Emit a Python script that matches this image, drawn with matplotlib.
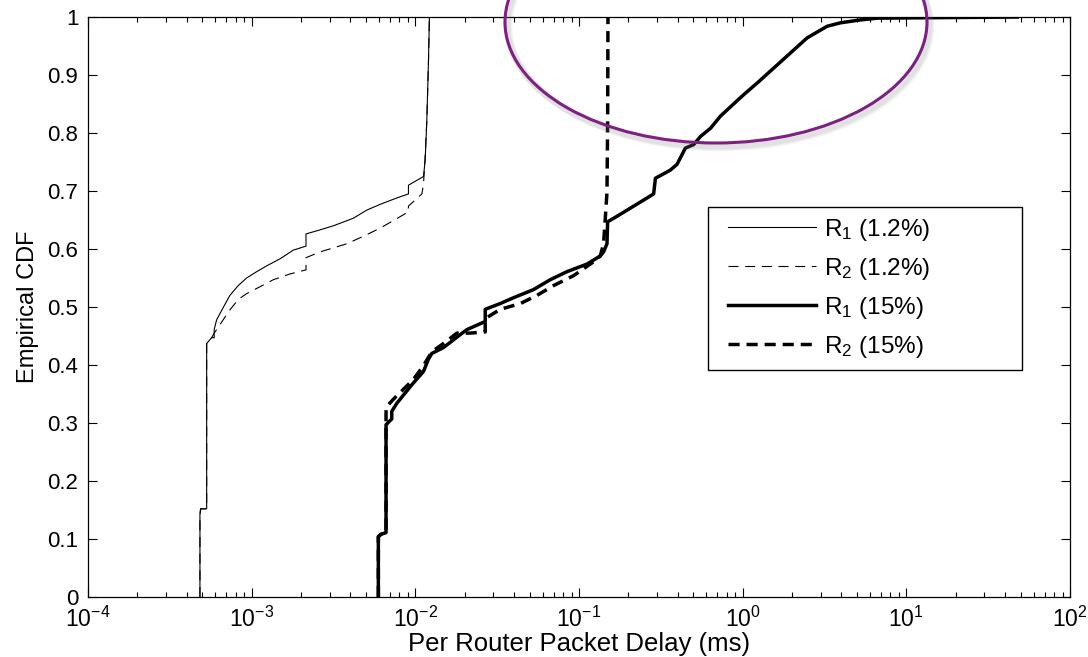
import matplotlib
matplotlib.use("Agg")
import matplotlib.pyplot as plt
import numpy as np
from matplotlib.patches import Ellipse, Rectangle
from matplotlib.ticker import LogLocator, FormatStrFormatter

plt.rcParams['font.family'] = ['Liberation Sans', 'DejaVu Sans']
plt.rcParams['mathtext.fontset'] = 'custom'
plt.rcParams['mathtext.rm'] = 'Liberation Sans'
plt.rcParams['mathtext.it'] = 'Liberation Sans'

# log10 of per-router delay (ms) and CDF values
r1_low_logd = [-3.316, -3.316, -3.312, -3.275, -3.275, -3.245, -3.229, -3.229, -3.214, -3.174,
               -3.133, -3.082, -3.031, -2.969, -2.908, -2.827, -2.746, -2.668, -2.668, -2.582,
               -2.501, -2.379, -2.297, -2.215, -2.113, -2.042, -2.042, -1.950, -1.940, -1.930,
               -1.920, -1.914]
r1_low_cdf = [0.0, 0.142, 0.152, 0.152, 0.437, 0.447, 0.447, 0.461, 0.478, 0.499,
              0.520, 0.537, 0.550, 0.561, 0.571, 0.583, 0.598, 0.605, 0.626, 0.633,
              0.640, 0.653, 0.667, 0.677, 0.688, 0.695, 0.710, 0.725, 0.753, 0.820,
              0.920, 1.0]

r2_low_logd = [-3.316, -3.316, -3.312, -3.275, -3.275, -3.245, -3.229, -3.204, -3.174, -3.133,
               -3.082, -3.031, -2.949, -2.868, -2.766, -2.668, -2.668, -2.582, -2.419, -2.317,
               -2.215, -2.042, -2.042, -1.960, -1.950, -1.940, -1.930, -1.920, -1.914]
r2_low_cdf = [0.0, 0.142, 0.152, 0.152, 0.437, 0.447, 0.455, 0.465, 0.478, 0.495,
              0.513, 0.523, 0.535, 0.547, 0.557, 0.564, 0.585, 0.595, 0.609, 0.622,
              0.636, 0.664, 0.674, 0.695, 0.712, 0.760, 0.820, 0.920, 1.0]

r1_high_logd = [-2.226, -2.226, -2.211, -2.179, -2.179, -2.144, -2.144, -2.113, -2.073, -2.012,
                -1.950, -1.920, -1.899, -1.828, -1.746, -1.685, -1.573, -1.573, -1.481, -1.400,
                -1.278, -1.176, -1.073, -0.951, -0.870, -0.850, -0.829, -0.825, -0.788, -0.706,
                -0.584, -0.544, -0.533, -0.442, -0.401, -0.370, -0.350, -0.299, -0.258, -0.197,
                -0.136, -0.075, 0.006, 0.088, 0.190, 0.292, 0.394, 0.516, 0.598, 0.720,
                0.822, 1.678]
r1_high_cdf = [0.0, 0.104, 0.108, 0.111, 0.297, 0.307, 0.320, 0.334, 0.348, 0.369,
               0.389, 0.410, 0.420, 0.430, 0.448, 0.461, 0.475, 0.496, 0.506, 0.516,
               0.530, 0.547, 0.561, 0.574, 0.588, 0.595, 0.609, 0.647, 0.653, 0.667,
               0.688, 0.695, 0.722, 0.736, 0.746, 0.763, 0.774, 0.780, 0.794, 0.808,
               0.829, 0.845, 0.866, 0.886, 0.912, 0.938, 0.964, 0.984, 0.990, 0.995,
               0.998, 1.0]

r2_high_logd = [-2.226, -2.226, -2.211, -2.179, -2.179, -2.134, -2.073, -2.012, -1.950, -1.899,
                -1.828, -1.746, -1.665, -1.573, -1.573, -1.481, -1.358, -1.257, -1.155, -1.033,
                -0.911, -0.870, -0.850, -0.840, -0.829, -0.825, -0.823]
r2_high_cdf = [0.0, 0.104, 0.108, 0.111, 0.327, 0.341, 0.358, 0.375, 0.399, 0.423,
               0.437, 0.455, 0.455, 0.457, 0.480, 0.496, 0.506, 0.520, 0.537, 0.554,
               0.578, 0.588, 0.609, 0.650, 0.698, 0.820, 1.0]

labels = ["R$_1$ (1.2%)", "R$_2$ (1.2%)", "R$_1$ (15%)", "R$_2$ (15%)"]

W, H = 1088, 657
fig = plt.figure(figsize=(W / 100, H / 100), dpi=100)
ax = fig.add_axes([88 / W, 60 / H, 982 / W, 580 / H])

ax.plot(10 ** np.array(r1_low_logd), r1_low_cdf, color="k", lw=0.8, label=labels[0])
ax.plot(10 ** np.array(r2_low_logd), r2_low_cdf, color="k", lw=0.8,
        linestyle=(0, (9, 6)), label=labels[1])
ax.plot(10 ** np.array(r1_high_logd), r1_high_cdf, color="k", lw=2.5, label=labels[2])
ax.plot(10 ** np.array(r2_high_logd), r2_high_cdf, color="k", lw=2.5,
        linestyle=(0, (3.2, 2.0)), label=labels[3])

ax.set_xscale("log")
ax.set_xlim(1e-4, 1e2)
ax.set_ylim(0, 1)
ax.set_yticks(np.arange(0, 1.01, 0.1))
ax.yaxis.set_major_formatter(FormatStrFormatter("%g"))
ax.xaxis.set_minor_locator(LogLocator(base=10, subs=np.arange(2, 10), numticks=20))
ax.tick_params(which="both", direction="in", top=True, right=True, width=0.8)
ax.tick_params(which="major", length=6.5)
ax.tick_params(which="minor", length=3.6)
ax.tick_params(axis="y", labelsize=16, pad=7)
ax.tick_params(axis="x", labelsize=16.5, pad=7)
for s in ax.spines.values():
    s.set_linewidth(0.9)

ax.set_xlabel("Per Router Packet Delay (ms)", fontsize=18.5)
ax.xaxis.set_label_coords(0.5, -(632 - 597) / 580)
ax.set_ylabel("Empirical CDF", fontsize=17, labelpad=6)

# legend box drawn separately to match its wide right margin
ax.add_patch(Rectangle((620 / 982, 227 / 580), 314 / 982, 163 / 580, transform=ax.transAxes,
                       fill=False, edgecolor="k", lw=1.0, zorder=4))
ax.legend(loc="upper left", bbox_to_anchor=(640 / 982, 1 - 200 / 580), fontsize=17.5,
          frameon=False, handlelength=3.6, borderpad=0, labelspacing=0.53,
          handletextpad=0.35, borderaxespad=0)

# highlighted region (purple ellipse with soft shadow)
cx, cy, w, h = 716 / W, (H - 22) / H, 422 / W, 242 / H
for dx, dy, a in [(4, -5, 0.06), (3, -4, 0.08), (2, -3, 0.10)]:
    fig.add_artist(Ellipse((cx + dx / W, cy + dy / H), w, h, transform=fig.transFigure,
                           fill=False, edgecolor="gray", lw=5, alpha=a, clip_on=False))
fig.add_artist(Ellipse((cx, cy), w, h, transform=fig.transFigure, fill=False,
                       edgecolor="#7d2082", lw=2.2, clip_on=False))

fig.savefig("out.png", dpi=100)
